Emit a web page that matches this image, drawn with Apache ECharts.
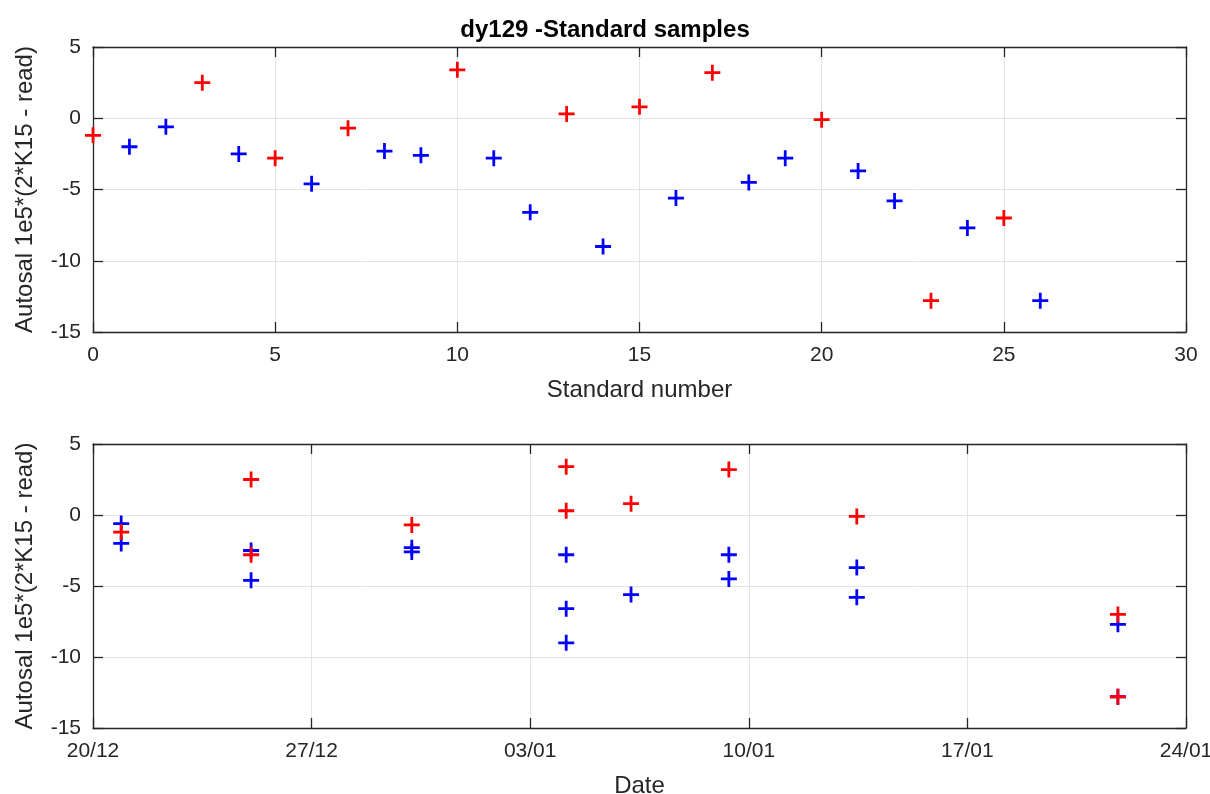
<!DOCTYPE html>
<html>
<head>
<meta charset="utf-8">
<script src="https://cdn.jsdelivr.net/npm/echarts@6/dist/echarts.min.js"></script>
<style>
html,body{margin:0;padding:0;background:#fff;}
#c{width:1210px;height:794px;}
</style>
</head>
<body>
<div id="c"></div>
<script>
// Standard number (0..26)
const standardNumbers = [0,1,2,3,4,5,6,7,8,9,10,11,12,13,14,15,16,17,18,19,20,21,22,23,24,25,26];
// Autosal offset 1e5*(2*K15 - read)
const offsets = [-1.2,-2.0,-0.6,2.5,-2.5,-2.8,-4.6,-0.7,-2.3,-2.6,3.4,-2.8,-6.6,0.3,-9.0,0.8,-5.6,3.2,-4.5,-2.8,-0.1,-3.7,-5.8,-12.8,-7.7,-7.0,-12.8];
// 'r' = red marker, 'b' = blue marker
const markerGroup = ['r','b','b','r','b','r','b','r','b','b','r','b','b','r','b','r','b','r','b','b','r','b','b','r','b','r','b'];
// Date of each standard
const sampleDates = [
 '2020-12-20T21:40','2020-12-20T21:40','2020-12-20T21:40',
 '2020-12-25T01:30','2020-12-25T01:30','2020-12-25T01:30','2020-12-25T01:30',
 '2020-12-30T05:00','2020-12-30T05:00','2020-12-30T05:00',
 '2021-01-04T03:40','2021-01-04T03:40','2021-01-04T03:40','2021-01-04T03:40','2021-01-04T03:40',
 '2021-01-06T05:30','2021-01-06T05:30',
 '2021-01-09T08:40','2021-01-09T08:40','2021-01-09T08:40',
 '2021-01-13T11:00','2021-01-13T11:00','2021-01-13T11:00',
 '2021-01-21T19:40','2021-01-21T19:40','2021-01-21T19:40','2021-01-21T19:40'
];
const dateAxisStart = '2020-12-20T00:00';
const dateTickLabels = ['20/12','27/12','03/01','10/01','17/01','24/01'];
const yTicks = [-15,-10,-5,0,5];
const xTicksTop = [0,5,10,15,20,25,30];

const DAY = 86400000;
const t0 = Date.parse(dateAxisStart + 'Z');
const dayOffset = s => (Date.parse(s + 'Z') - t0) / DAY;

const plus = 'path://M-1.3,-7.5H1.3V-1.3H7.5V1.3H1.3V7.5H-1.3V1.3H-7.5V-1.3H-1.3Z';
const RED = '#ff0000', BLUE = '#0000ff';
const FONT = 'Liberation Sans, Arial, Helvetica, sans-serif';
const TXT = '#262626';

function pts(xs, flag){
  const out = [];
  for (let i=0;i<offsets.length;i++) if (markerGroup[i]===flag) out.push([xs[i], offsets[i]]);
  return out;
}
const dateX = sampleDates.map(dayOffset);

function mainX(gi, min, max, interval, formatter, name, nameGap){
  return {
    type:'value', gridIndex:gi, min:min, max:max, interval:interval, position:'bottom',
    name:name, nameLocation:'middle', nameGap:nameGap,
    nameTextStyle:{fontFamily:FONT, fontSize:24, color:TXT},
    axisLine:{onZero:false, lineStyle:{color:TXT, width:1.3}},
    axisTick:{inside:true, length:10, lineStyle:{color:TXT, width:1.3}},
    axisLabel:{fontFamily:FONT, fontSize:21, color:TXT, margin:13, formatter:formatter},
    splitLine:{show:true, lineStyle:{color:'#e3e3e3', width:1}}
  };
}
function mirrorX(gi, min, max, interval){
  return {
    type:'value', gridIndex:gi, min:min, max:max, interval:interval, position:'top',
    axisLine:{onZero:false, lineStyle:{color:TXT, width:1.3}},
    axisTick:{inside:true, length:10, lineStyle:{color:TXT, width:1.3}},
    axisLabel:{show:false}, splitLine:{show:false}
  };
}
function mainY(gi){
  return {
    type:'value', gridIndex:gi, min:yTicks[0], max:yTicks[yTicks.length-1], interval:5, position:'left',
    name:'Autosal 1e5*(2*K15 - read)', nameLocation:'middle', nameGap:56,
    nameTextStyle:{fontFamily:FONT, fontSize:24, color:TXT},
    axisLine:{onZero:false, lineStyle:{color:TXT, width:1.3}},
    axisTick:{inside:true, length:10, lineStyle:{color:TXT, width:1.3}},
    axisLabel:{fontFamily:FONT, fontSize:21, color:TXT, margin:12},
    splitLine:{show:true, lineStyle:{color:'#e3e3e3', width:1}}
  };
}
function mirrorY(gi){
  return {
    type:'value', gridIndex:gi, min:-15, max:5, interval:5, position:'right',
    axisLine:{onZero:false, lineStyle:{color:TXT, width:1.3}},
    axisTick:{inside:true, length:10, lineStyle:{color:TXT, width:1.3}},
    axisLabel:{show:false}, splitLine:{show:false}
  };
}
function ser(xi, yi, data, color){
  return {type:'scatter', xAxisIndex:xi, yAxisIndex:yi, data:data, symbol:plus, symbolSize:16,
    itemStyle:{color:color, opacity:1}, emphasis:{disabled:true}, silent:true, z:3};
}

const chart = echarts.init(document.getElementById('c'), null, {renderer:'canvas'});
chart.setOption({
  animation:false,
  backgroundColor:'#fff',
  title:{text:'dy129 -Standard samples', left:'center', top:13,
    textStyle:{fontFamily:FONT, fontSize:24, fontWeight:'bold', color:'#000'}},
  grid:[
    {left:93, right:24, top:47, height:285, containLabel:false, outerBoundsMode:'none'},
    {left:93, right:24, top:444, height:284, containLabel:false, outerBoundsMode:'none'}
  ],
  xAxis:[
    mainX(0, 0, 30, 5, null, 'Standard number', 46),
    mirrorX(0, 0, 30, 5),
    mainX(1, 0, 35, 7, v => dateTickLabels[Math.round(v/7)], 'Date', 46),
    mirrorX(1, 0, 35, 7)
  ],
  yAxis:[ mainY(0), mirrorY(0), mainY(1), mirrorY(1) ],
  series:[
    ser(0, 0, pts(standardNumbers,'b'), BLUE),
    ser(0, 0, pts(standardNumbers,'r'), RED),
    ser(2, 2, pts(dateX,'b'), BLUE),
    ser(2, 2, pts(dateX,'r'), RED)
  ]
});
</script>
</body>
</html>
